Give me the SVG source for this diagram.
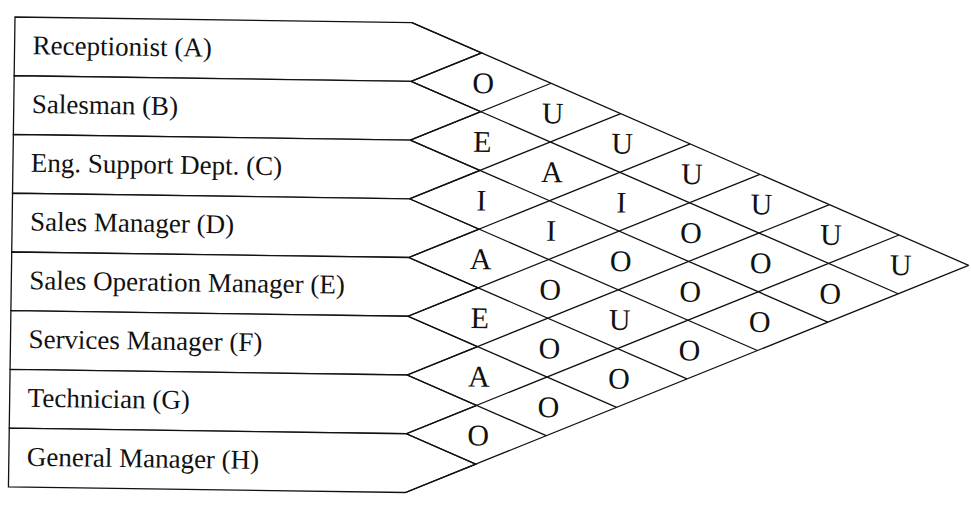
<svg xmlns="http://www.w3.org/2000/svg" width="971" height="506" viewBox="0 0 971 506">
<style>
.row{fill:#fff;stroke:#111;stroke-width:1.3;stroke-linejoin:miter}
.lbl{font-family:"Liberation Serif","Times New Roman",serif;font-size:27px;fill:#111}
.ln{stroke:#111;stroke-width:1.3;fill:none}
.rel{font-family:"Liberation Serif","Times New Roman",serif;font-size:30px;fill:#111;text-anchor:middle}
</style>
<rect width="971" height="506" fill="#fff"/>
<g transform="rotate(0.8 15 17)">
<g id="rowA"><polygon class="row" points="15,17 412,17 482,46.375 412,75.75 15,75.75"/><text class="lbl" x="33" y="54">Receptionist (A)</text></g>
<g id="rowB"><polygon class="row" points="15,75.75 412,75.75 482,105.125 412,134.5 15,134.5"/><text class="lbl" x="33" y="112.75">Salesman (B)</text></g>
<g id="rowC"><polygon class="row" points="15,134.5 412,134.5 482,163.875 412,193.25 15,193.25"/><text class="lbl" x="33" y="171.5">Eng. Support Dept. (C)</text></g>
<g id="rowD"><polygon class="row" points="15,193.25 412,193.25 482,222.625 412,252 15,252"/><text class="lbl" x="33" y="230.25">Sales Manager (D)</text></g>
<g id="rowE"><polygon class="row" points="15,252 412,252 482,281.375 412,310.75 15,310.75"/><text class="lbl" x="33" y="289">Sales Operation Manager (E)</text></g>
<g id="rowF"><polygon class="row" points="15,310.75 412,310.75 482,340.125 412,369.5 15,369.5"/><text class="lbl" x="33" y="347.75">Services Manager (F)</text></g>
<g id="rowG"><polygon class="row" points="15,369.5 412,369.5 482,398.875 412,428.25 15,428.25"/><text class="lbl" x="33" y="406.5">Technician (G)</text></g>
<g id="rowH"><polygon class="row" points="15,428.25 412,428.25 482,457.625 412,487 15,487"/><text class="lbl" x="33" y="465.5">General Manager (H)</text></g>
<g id="connectors">
<line class="ln" x1="412" y1="17" x2="972" y2="252"/>
<line class="ln" x1="412" y1="487" x2="972" y2="252"/>
<line class="ln" x1="412" y1="75.75" x2="902" y2="281.375"/>
<line class="ln" x1="412" y1="134.5" x2="832" y2="310.75"/>
<line class="ln" x1="412" y1="193.25" x2="762" y2="340.125"/>
<line class="ln" x1="412" y1="252" x2="692" y2="369.5"/>
<line class="ln" x1="412" y1="310.75" x2="622" y2="398.875"/>
<line class="ln" x1="412" y1="369.5" x2="552" y2="428.25"/>
<line class="ln" x1="412" y1="428.25" x2="482" y2="457.625"/>
<line class="ln" x1="412" y1="75.75" x2="482" y2="46.375"/>
<line class="ln" x1="412" y1="134.5" x2="552" y2="75.75"/>
<line class="ln" x1="412" y1="193.25" x2="622" y2="105.125"/>
<line class="ln" x1="412" y1="252" x2="692" y2="134.5"/>
<line class="ln" x1="412" y1="310.75" x2="762" y2="163.875"/>
<line class="ln" x1="412" y1="369.5" x2="832" y2="193.25"/>
<line class="ln" x1="412" y1="428.25" x2="902" y2="222.625"/>
</g>
<g id="relationships">
<text class="rel" x="484" y="86.5">O</text>
<text class="rel" x="484" y="145.25">E</text>
<text class="rel" x="484" y="204">I</text>
<text class="rel" x="484" y="262.75">A</text>
<text class="rel" x="484" y="321.5">E</text>
<text class="rel" x="484" y="380.25">A</text>
<text class="rel" x="484" y="439">O</text>
<text class="rel" x="554" y="115.875">U</text>
<text class="rel" x="554" y="174.625">A</text>
<text class="rel" x="554" y="233.375">I</text>
<text class="rel" x="554" y="292.125">O</text>
<text class="rel" x="554" y="350.875">O</text>
<text class="rel" x="554" y="409.625">O</text>
<text class="rel" x="624" y="145.25">U</text>
<text class="rel" x="624" y="204">I</text>
<text class="rel" x="624" y="262.75">O</text>
<text class="rel" x="624" y="321.5">U</text>
<text class="rel" x="624" y="380.25">O</text>
<text class="rel" x="694" y="174.625">U</text>
<text class="rel" x="694" y="233.375">O</text>
<text class="rel" x="694" y="292.125">O</text>
<text class="rel" x="694" y="350.875">O</text>
<text class="rel" x="764" y="204">U</text>
<text class="rel" x="764" y="262.75">O</text>
<text class="rel" x="764" y="321.5">O</text>
<text class="rel" x="834" y="233.375">U</text>
<text class="rel" x="834" y="292.125">O</text>
<text class="rel" x="904" y="262.75">U</text>
</g>
</g>
</svg>
